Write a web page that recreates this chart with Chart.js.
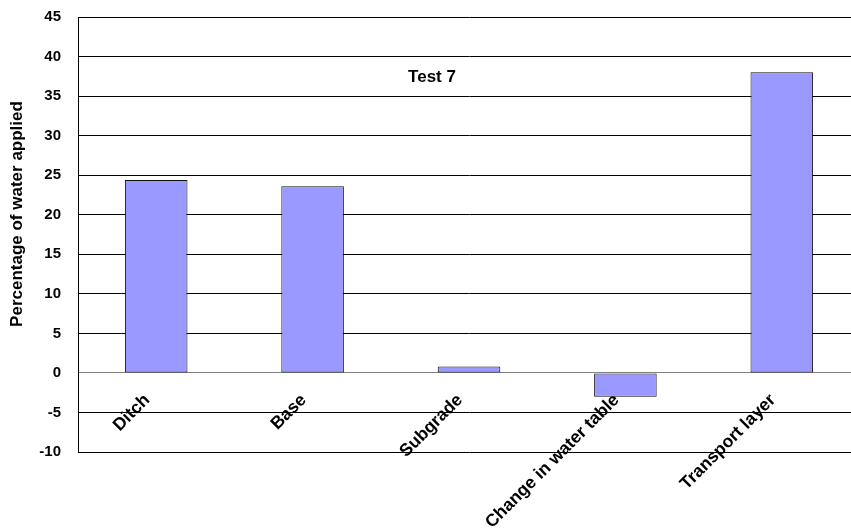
<!DOCTYPE html>
<html>
<head>
<meta charset="utf-8">
<script src="https://cdn.jsdelivr.net/npm/chart.js@4"></script>
<style>
  html, body { margin: 0; padding: 0; background: #fff; overflow: hidden; }
  #wrap { width: 860px; height: 531px; position: relative; }
</style>
</head>
<body>
<div id="wrap"><canvas id="chart" width="860" height="531"></canvas></div>
<script>
// Water balance components for Test 7 (percentage of water applied)
const categories = ['Ditch', 'Base', 'Subgrade', 'Change in water table', 'Transport layer'];
const percentages = [24.4, 23.6, 0.8, -3.0, 38.0];
const yTicks = [-10, -5, 0, 5, 10, 15, 20, 25, 30, 35, 40, 45];
const chartLabel = 'Test 7';
const axisTitle = 'Percentage of water applied';

const FONT = '"Liberation Sans", Arial, Helvetica, sans-serif';

// Caption inside the plot area and the rotated value-axis title
const textPlugin = {
  id: 'texts',
  afterDraw(chart) {
    const { ctx, chartArea } = chart;
    ctx.save();
    ctx.fillStyle = '#000';
    ctx.textAlign = 'center';
    ctx.textBaseline = 'middle';
    ctx.font = 'bold 17px ' + FONT;
    ctx.fillText(chartLabel, chartArea.left + 354, chartArea.top + 60);
    ctx.translate(17, chartArea.top + 197);
    ctx.rotate(-Math.PI / 2);
    ctx.fillText(axisTitle, 0, 0);
    ctx.restore();
  }
};

new Chart(document.getElementById('chart'), {
  type: 'bar',
  data: {
    labels: categories,
    datasets: [{
      data: percentages,
      backgroundColor: '#9999FF',
      borderColor: '#111111',
      borderWidth: 1,
      borderSkipped: false,
      categoryPercentage: 1.0,
      barPercentage: 0.4
    }]
  },
  options: {
    responsive: false,
    animation: false,
    devicePixelRatio: 1,
    layout: { padding: { top: 17, bottom: 79, left: 0, right: 0 } },
    plugins: {
      legend: { display: false },
      tooltip: { enabled: false },
      title: { display: false }
    },
    scales: {
      x: {
        type: 'category',
        position: { y: 0 },
        offset: true,
        z: 1,
        afterFit(scale) {
          scale.paddingTop = 0;
          scale.paddingBottom = 0;
          scale.paddingLeft = 0;
          scale.paddingRight = 0;
        },
        grid: { display: false, drawTicks: false },
        border: { display: true, color: '#808080', width: 1 },
        ticks: {
          autoSkip: false,
          minRotation: 45,
          maxRotation: 45,
          padding: 17,
          labelOffset: -9,
          color: '#000',
          font: { family: FONT, size: 17.5, weight: 'bold' }
        }
      },
      y: {
        min: -10,
        max: 45,
        afterBuildTicks(scale) {
          scale.ticks = yTicks.map(v => ({ value: v }));
        },
        afterFit(scale) {
          scale.width = 78;
          scale.paddingTop = 0;
          scale.paddingBottom = 0;
        },
        grid: { color: '#000', lineWidth: 1, drawTicks: false },
        border: { display: true, color: '#000', width: 1 },
        ticks: {
          padding: 17,
          color: '#000',
          font: { family: FONT, size: 15, weight: 'bold' }
        },
        title: { display: false }
      }
    }
  },
  plugins: [textPlugin]
});
</script>
</body>
</html>
